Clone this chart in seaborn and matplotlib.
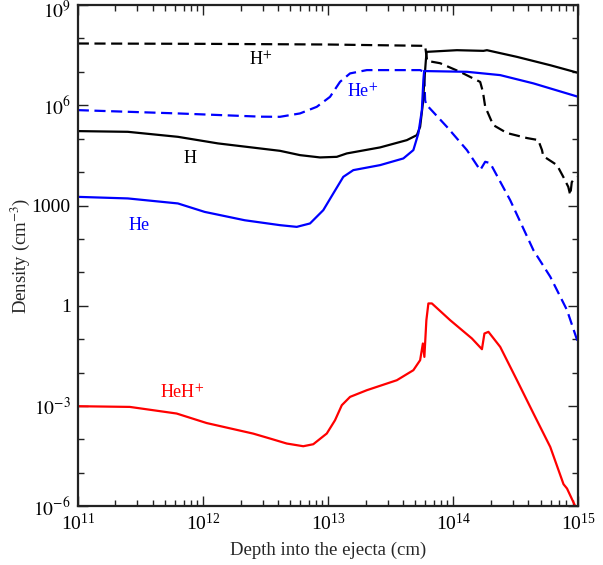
"""Density profiles of H, H+, He, He+ and HeH+ through the ejecta"""
import numpy as np
import pandas as pd
import matplotlib

matplotlib.use("Agg")
import matplotlib.pyplot as plt
from matplotlib.ticker import FixedLocator, LogLocator, NullFormatter
from matplotlib.transforms import ScaledTranslation
import seaborn as sns

# log10(depth / cm) and log10(density / cm^-3)
h_plus_x = [11.0, 12.0, 13.0, 13.776, 13.792, 13.896, 14.056, 14.216, 14.238,
            14.256, 14.32, 14.43, 14.59, 14.68, 14.71, 14.72, 14.83, 14.88,
            14.92, 14.936, 14.948, 14.96, 15.0]
h_plus_y = [7.85, 7.84, 7.82, 7.78, 7.33, 7.26, 7.0, 6.70, 6.40,
            5.96, 5.41, 5.17, 5.02, 4.96, 4.66, 4.48, 4.21, 3.86,
            3.56, 3.31, 3.70, 3.76, 3.86]

he_plus_x = [11.0, 11.8, 12.464, 12.616, 12.776, 12.91, 13.016, 13.096, 13.176,
             13.31, 13.736, 13.768, 13.776, 13.786, 13.802, 13.95, 14.11,
             14.216, 14.256, 14.296, 14.456, 14.642, 14.776, 14.91, 15.0]
he_plus_y = [5.856, 5.757, 5.66, 5.656, 5.757, 5.955, 6.254, 6.704, 6.955,
             7.054, 7.054, 7.003, 6.15, 5.99, 5.955, 5.356, 4.66,
             4.06, 4.31, 4.27, 3.16, 1.66, 0.87, -0.13, -1.13]

h_x = [11.0, 11.4, 11.8, 12.12, 12.616, 12.776, 12.936, 13.07, 13.15, 13.416,
       13.63, 13.71, 13.736, 13.758, 13.77, 13.782, 13.788, 14.03, 14.242,
       14.27, 14.51, 14.776, 15.0]
h_y = [5.228, 5.207, 5.057, 4.86, 4.638, 4.509, 4.44, 4.458, 4.56, 4.74,
       4.958, 5.108, 5.356, 6.057, 6.754, 7.353, 7.60, 7.65, 7.63,
       7.65, 7.45, 7.20, 6.97]

he_x = [11.0, 11.4, 11.8, 12.014, 12.334, 12.616, 12.75, 12.856, 12.962,
        13.042, 13.122, 13.202, 13.416, 13.602, 13.682, 13.722, 13.75, 13.762,
        13.768, 13.79, 14.11, 14.376, 14.642, 15.0]
he_y = [3.26, 3.213, 3.063, 2.81, 2.56, 2.413, 2.362, 2.464, 2.862,
        3.362, 3.859, 4.06, 4.21, 4.41, 4.66, 5.159, 5.856, 6.754,
        7.03, 7.024, 7.003, 6.904, 6.656, 6.254]

heh_x = [11.0, 11.416, 11.79, 12.03, 12.402, 12.536, 12.67, 12.802, 12.882,
         12.99, 13.056, 13.11, 13.176, 13.31, 13.55, 13.682, 13.736, 13.758,
         13.77, 13.786, 13.802, 13.83, 13.976, 14.15, 14.23, 14.25, 14.282,
         14.376, 14.51, 14.642, 14.776, 14.882, 14.91, 14.976]
heh_y = [-3.006, -3.027, -3.225, -3.51, -3.826, -3.973, -4.123, -4.204, -4.144,
         -3.823, -3.425, -2.976, -2.727, -2.527, -2.228, -1.928, -1.629, -1.129,
         -1.53, -0.431, 0.07, 0.07, -0.431, -0.979, -1.3, -0.83, -0.78,
         -1.23, -2.228, -3.225, -4.225, -5.34, -5.47, -6.0]

y_ticks = [1e-6, 1e-3, 1, 1000, 1e6, 1e9]
y_ticklabels = [r"$10^{-6}$", r"$10^{-3}$", "1", "1000", r"$10^{6}$", r"$10^{9}$"]


def make_plot():
    """Draw the five density curves"""
    sns.set_style("ticks")
    plt.rcParams["font.family"] = ["Liberation Serif", "DejaVu Serif"]
    plt.rcParams["mathtext.fontset"] = "stix"

    fig = plt.figure(figsize=(6.03, 5.65), dpi=100)
    ax = fig.add_axes([0.129, 0.104, 0.830, 0.887])

    curves = [
        (h_plus_x, h_plus_y, "black", (0, (5, 2.5))),
        (he_plus_x, he_plus_y, "#0000ff", (0, (5, 2.5))),
        (h_x, h_y, "black", "-"),
        (he_x, he_y, "#0000ff", "-"),
        (heh_x, heh_y, "#ff0000", "-"),
    ]
    for xs, ys, color, ls in curves:
        df = pd.DataFrame({"depth": 10 ** np.array(xs), "dens": 10 ** np.array(ys)})
        sns.lineplot(data=df, x="depth", y="dens", ax=ax, sort=False,
                     estimator=None, color=color, linewidth=1.6, linestyle=ls)

    ax.set_xscale("log")
    ax.set_yscale("log")
    ax.set_xlim(1e11, 1e15)
    ax.set_ylim(1e-6, 1e9)

    ax.xaxis.set_major_locator(LogLocator(base=10, numticks=10))
    ax.xaxis.set_minor_locator(LogLocator(base=10, subs=np.arange(2, 10), numticks=20))
    ax.xaxis.set_minor_formatter(NullFormatter())
    ax.yaxis.set_major_locator(FixedLocator(y_ticks))
    ax.set_yticklabels(y_ticklabels)
    ax.yaxis.set_minor_locator(FixedLocator([10.0 ** k for k in range(-6, 10)]))
    ax.yaxis.set_minor_formatter(NullFormatter())

    ax.tick_params(which="both", direction="in", top=True, right=True,
                   labelsize=14, width=1.0, colors="#222222", labelcolor="black")
    ax.tick_params(which="major", length=7, pad=5)
    ax.tick_params(which="minor", length=4)
    for sp in ax.spines.values():
        sp.set_linewidth(1.6)
        sp.set_color("#222222")

    # nudge the top label so it stays inside the canvas
    top = ax.yaxis.get_major_ticks()[-1].label1
    top.set_transform(top.get_transform()
                      + ScaledTranslation(0, -3 / 72, fig.dpi_scale_trans))

    ax.set_xlabel("Depth into the ejecta (cm)", fontsize=13.5, labelpad=5)
    ax.set_ylabel(r"Density (cm$^{-3}$)", fontsize=13.5, labelpad=0)

    lab = dict(fontsize=13, ha="center", va="center")
    ax.text(2.9e12, 2.2e7, r"H$^{+}$", color="black", **lab)
    ax.text(1.9e13, 2.4e6, r"He$^{+}$", color="#0000ff", **lab)
    ax.text(7.9e11, 2.6e4, "H", color="black", **lab)
    ax.text(3.1e11, 260, "He", color="#0000ff", **lab)
    ax.text(6.8e11, 2.4e-3, r"HeH$^{+}$", color="#ff0000", **lab)

    fig.savefig("out.png", dpi=100)


if __name__ == "__main__":
    make_plot()
